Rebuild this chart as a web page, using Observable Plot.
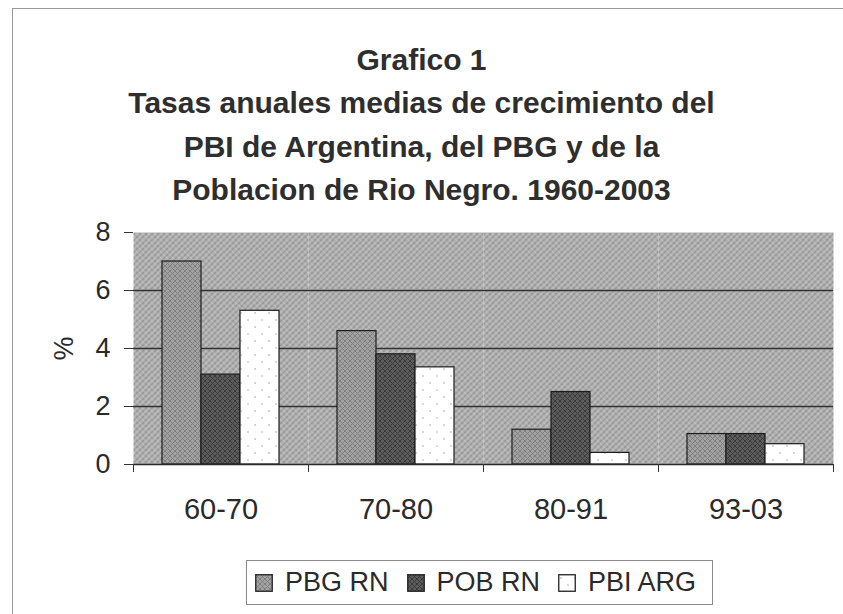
<!DOCTYPE html>
<html>
<head>
<meta charset="utf-8">
<script src="https://cdn.jsdelivr.net/npm/d3@7"></script>
<script src="https://cdn.jsdelivr.net/npm/@observablehq/plot@0.6"></script>
<style>
  html, body { margin: 0; padding: 0; background: #fff; }
  body { width: 843px; height: 614px; overflow: hidden; position: relative; font-family: "Liberation Sans", Arial, sans-serif; color: #2a2a2a; }
  #frame { position: absolute; left: 12px; top: 8px; width: 900px; height: 700px; border-left: 1px solid #9a9a9a; border-top: 1px solid #9a9a9a; pointer-events: none; }
  #title { margin: 0; padding-top: 38px; text-align: center; font-weight: bold; font-size: 30px; line-height: 43.3px; color: #2e2e2e; }
  #chart svg { display: block; }
  #legend { position: relative; margin: 25px 0 0 246px; width: 467px; height: 45px; border: 1px solid #8a8a8a; box-sizing: border-box; display: flex; align-items: center; padding-left: 8px; font-size: 27px; color: #2a2a2a; }
  .item { display: flex; align-items: center; margin-right: 18px; }
  .item:last-child { margin-right: 0; }
  .item svg { margin-right: 12px; }
</style>
</head>
<body>
<div id="frame"></div>
<div id="title">Grafico 1<br>Tasas anuales medias de crecimiento del<br>PBI de Argentina, del PBG y de la<br>Poblacion de Rio Negro. 1960-2003</div>
<div id="chart"></div>
<div id="legend"></div>
<svg width="0" height="0" style="position:absolute">
  <defs>
    <pattern id="bgPat" width="6" height="6" patternUnits="userSpaceOnUse">
      <rect width="6" height="6" fill="#b4b4b4"/>
      <path d="M-1,1 L1,-1 M0,6 L6,0 M5,7 L7,5" stroke="#8c8c8c" stroke-width="1.3"/>
      <path d="M0,0 L6,6" stroke="#cdcdcd" stroke-width="0.8"/>
    </pattern>
    <pattern id="pbgPat" width="5" height="5" patternUnits="userSpaceOnUse">
      <rect width="5" height="5" fill="#a2a2a2"/>
      <path d="M0,5 L5,0 M0,0 L5,5" stroke="#7c7c7c" stroke-width="0.9"/>
    </pattern>
    <pattern id="pobPat" width="5" height="5" patternUnits="userSpaceOnUse">
      <rect width="5" height="5" fill="#5c5c5c"/>
      <path d="M0,5 L5,0 M0,0 L5,5" stroke="#383838" stroke-width="0.9"/>
    </pattern>
    <pattern id="pbiPat" width="14" height="14" patternUnits="userSpaceOnUse">
      <rect width="14" height="14" fill="#ffffff"/>
      <circle cx="3" cy="4" r="0.7" fill="#8a8a8a"/>
      <circle cx="10" cy="11" r="0.7" fill="#9a9a9a"/>
    </pattern>
  </defs>
</svg>
<script>
const periods = ["60-70", "70-80", "80-91", "93-03"];
const seriesNames = ["PBG RN", "POB RN", "PBI ARG"];
const pbgRN = [7.0, 4.6, 1.2, 1.05];
const pobRN = [3.1, 3.8, 2.5, 1.05];
const pbiARG = [5.3, 3.35, 0.4, 0.7];
const yTicks = [0, 2, 4, 6, 8];
const gridValues = [2, 4, 6];
const patternFills = ["url(#pbgPat)", "url(#pobPat)", "url(#pbiPat)"];

const seriesValues = [pbgRN, pobRN, pbiARG];
const data = [];
periods.forEach((p, i) => {
  seriesNames.forEach((s, j) => data.push({period: p, series: s, value: seriesValues[j][i]}));
});

const chart = Plot.plot({
  width: 843,
  height: 324,
  marginTop: 21,
  marginBottom: 71,
  marginLeft: 133,
  marginRight: 10,
  style: {fontFamily: "'Liberation Sans', Arial, sans-serif", color: "#2a2a2a", background: "transparent", overflow: "visible"},
  fx: {domain: periods, padding: 0, label: null},
  x: {domain: seriesNames, paddingInner: 0, paddingOuter: 0.73, axis: null},
  y: {domain: [0, 8], label: null},
  color: {domain: seriesNames, range: patternFills},
  marks: [
    Plot.frame({fill: "url(#bgPat)", stroke: null}),
    Plot.ruleY(gridValues, {stroke: "#333", strokeWidth: 1.3}),
    Plot.barY(data, {fx: "period", x: "series", y: "value", fill: "series", stroke: "#1c1c1c", strokeWidth: 1.2}),
    Plot.ruleY([0], {stroke: "#2a2a2a", strokeWidth: 1.3}),
    Plot.frame({anchor: "left", insetTop: 232, insetBottom: -7, stroke: "#333"}),
    Plot.frame({anchor: "right", insetTop: 232, insetBottom: -7, stroke: "#333"}),
    Plot.axisY({ticks: yTicks, tickSize: 9, tickPadding: 14, fontSize: 27, stroke: "#333", label: "%", labelArrow: "none", labelAnchor: "center", labelOffset: 80, line: true}),
    Plot.axisFx({anchor: "bottom", tickSize: 0, tickPadding: 34, fontSize: 29, label: null})
  ]
});
document.getElementById("chart").appendChild(chart);

const legend = document.getElementById("legend");
seriesNames.forEach((s, j) => {
  const item = document.createElement("div");
  item.className = "item";
  item.innerHTML = `<svg width="18" height="18"><rect x="0.75" y="0.75" width="16.5" height="16.5" fill="${patternFills[j]}" stroke="#222" stroke-width="1.3"/></svg><span>${s}</span>`;
  legend.appendChild(item);
});
</script>
</body>
</html>
